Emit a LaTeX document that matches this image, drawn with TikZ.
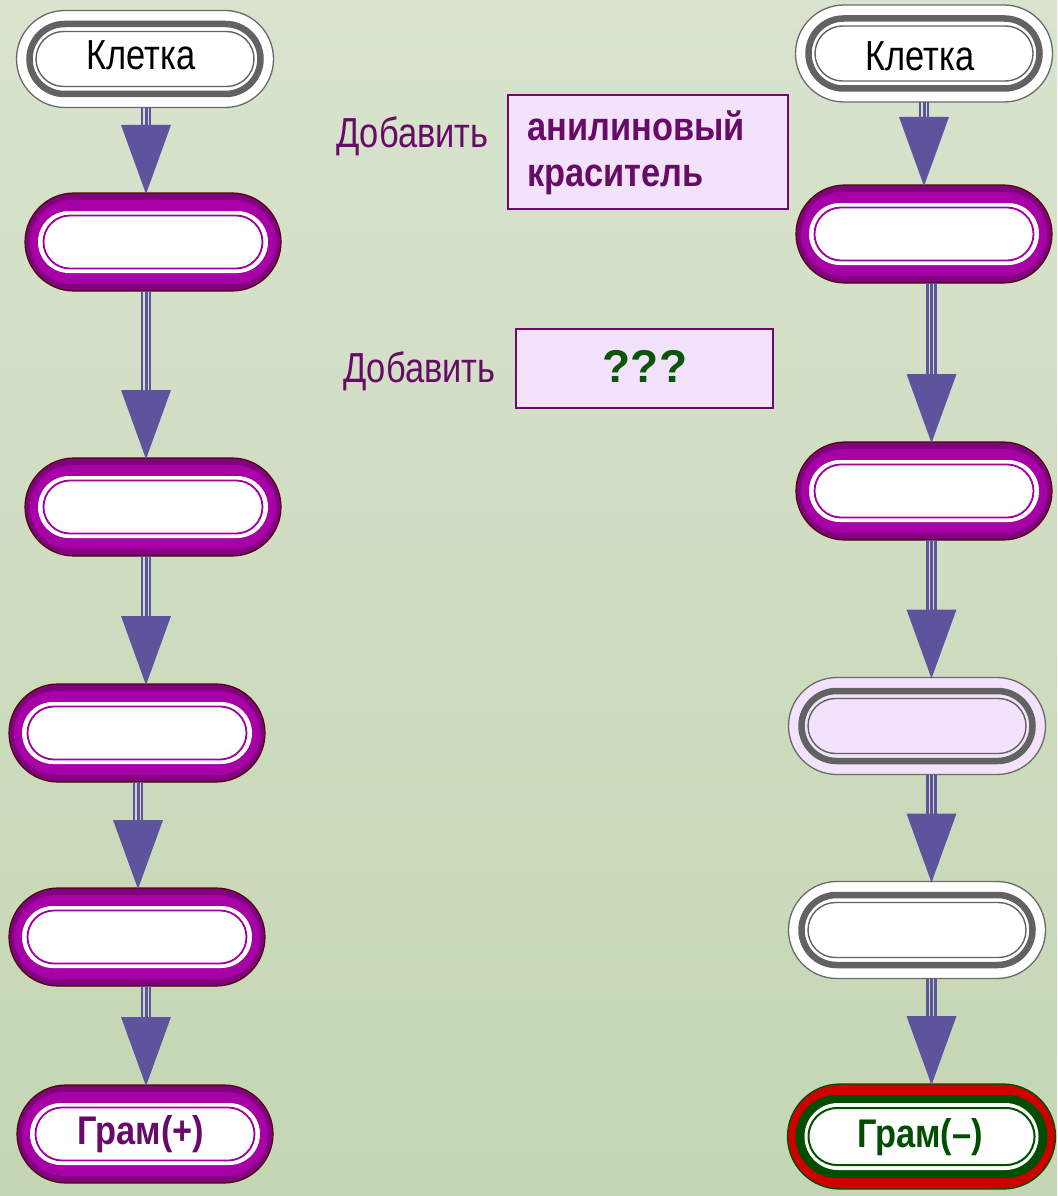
\documentclass[tikz,border=0pt]{standalone}
\usepackage{fontspec}
\usetikzlibrary{shapes.misc,calc}
\newfontfamily\nreg{Liberation Sans}[FakeStretch=0.82]
\newfontfamily\nbold{Liberation Sans}[FakeStretch=0.86]
\newfontfamily\qbold{Liberation Sans}
\definecolor{bgtop}{RGB}{217,227,206}
\definecolor{bgbot}{RGB}{196,214,179}
\definecolor{pdark}{RGB}{128,0,128}
\definecolor{pmid}{RGB}{166,0,166}
\definecolor{pedge}{RGB}{75,12,0}
\definecolor{plin}{RGB}{160,0,160}
\definecolor{gedge}{RGB}{106,106,106}
\definecolor{gring}{RGB}{98,98,98}
\definecolor{pinkf}{RGB}{243,226,251}
\definecolor{arrowc}{RGB}{94,84,158}
\definecolor{txtp}{RGB}{104,10,104}
\definecolor{txtg}{RGB}{10,85,10}
\definecolor{gdark}{RGB}{0,78,0}
\definecolor{redf}{RGB}{204,0,0}
\definecolor{boxedge}{RGB}{110,10,110}
\tikzset{
  base/.style={rounded rectangle, inner sep=0pt, outer sep=0pt},
  pouter/.style={base, fill=pdark, draw=pedge, line width=1.2pt, minimum width=256pt, minimum height=98pt},
  pband/.style={base, fill=pmid, minimum width=246pt, minimum height=84pt},
  pring/.style={base, fill=white, minimum width=230pt, minimum height=62pt},
  pline/.style={base, fill=white, draw=plin, line width=1.8pt, minimum width=219pt, minimum height=53pt},
  gouter/.style={base, draw=gedge, line width=1.3pt, minimum width=257pt, minimum height=97pt},
  gring/.style={base, draw=gring, line width=6.5pt, minimum width=231pt, minimum height=70pt},
  gline/.style={base, draw=gring, line width=1.4pt, minimum width=218pt, minimum height=55pt},
  router/.style={base, fill=redf, draw=gdark, line width=1.3pt, minimum width=268pt, minimum height=105pt},
  rband/.style={base, fill=gdark, minimum width=252pt, minimum height=83pt},
  rring/.style={base, fill=white, minimum width=234pt, minimum height=67pt},
  rline/.style={base, fill=white, draw=gdark, line width=2pt, minimum width=226pt, minimum height=57pt},
  addbox/.style={draw=boxedge, line width=1.8pt, fill=pinkf, inner sep=0pt},
  lbl/.style={inner sep=0pt, anchor=base west},
}
\newcommand\purplepill[3]{%
  \node[pouter] (#1) at (#2) {};
  \node[pband] (#1-b) at (#1.center) {};
  \node[pring] (#1-r) at (#1.center) {};
  \node[pline] (#1-l) at (#1.center) {#3};
}
\newcommand\graypill[3]{%
  \node[gouter, fill=#3] (#1) at (#2) {};
  \node[gring] (#1-r) at (#1.center) {};
  \node[gline] (#1-l) at (#1.center) {};
}
\newcommand\flow[3]{%
  \foreach \dx/\lw in {-4/2.3,0/3,4/2.3}{%
    \draw[arrowc, line width=\lw pt]
      ($(#1.south -| #3)+(\dx pt,0)$) -- ($(#2.north -| #3)+(\dx pt,60pt)$);
  }
  \fill[arrowc] ($(#2.north -| #3)+(-25pt,68pt)$) -- ($(#2.north -| #3)+(25pt,68pt)$)
     -- ($(#2.north -| #3)+(0,-1pt)$) -- cycle;
}
\begin{document}
\begin{tikzpicture}[x=1pt,y=-1pt]
\shade[top color=bgtop, bottom color=bgbot] (0,0) rectangle (1057,1196);
\useasboundingbox (0,0) rectangle (1057,1196);
% column x coordinates for connectors
\coordinate (xa) at (146,0);
\coordinate (xb) at (138,0);
\coordinate (xc) at (924,0);
\coordinate (xd) at (931.5,0);
% left column
\graypill{L1}{145,59}{white}
\node[inner sep=0pt, anchor=base] (L1t) at (141,70) {\nreg\fontsize{42}{50}\selectfont Клетка};
\purplepill{L2}{153,242}{}
\purplepill{L3}{153,507}{}
\purplepill{L4}{137,733}{}
\purplepill{L5}{137,937}{}
\purplepill{L6}{145,1134}{}
\node[inner sep=0pt, anchor=base] (L6t) at (141,1144) {\nbold\bfseries\fontsize{40}{48}\selectfont\color{txtp}Грам(+)};
% right column
\graypill{R1}{924,53.5}{white}
\node[inner sep=0pt, anchor=base] (R1t) at (920,71) {\nreg\fontsize{42}{50}\selectfont Клетка};
\purplepill{R2}{924,234}{}
\purplepill{R3}{924,491}{}
\graypill{R4}{917,726}{pinkf}
\graypill{R5}{917,930}{white}
\node[router] (R6) at (921.5,1136.5) {};
\node[rband] (R6-b) at (R6.center) {};
\node[rring] (R6-r) at (R6.center) {};
\node[rline] (R6-l) at (R6.center) {};
\node[inner sep=0pt, anchor=base] (R6t) at (920,1147) {\nbold\bfseries\fontsize{40}{48}\selectfont\color{gdark}Грам(–)};
% middle boxes
\node[addbox, minimum width=280pt, minimum height=114pt] (B1) at (648,152) {};
\node[lbl] (B1a) at (527,140) {\nbold\bfseries\fontsize{40}{46}\selectfont\color{txtp}анилиновый};
\node[lbl] (B1b) at (527,186) {\nbold\bfseries\fontsize{40}{46}\selectfont\color{txtp}краситель};
\node[lbl] (D1) at (336,147) {\nreg\fontsize{42}{50}\selectfont\color{txtp}Добавить};
\node[addbox, minimum width=257pt, minimum height=79pt] (B2) at (644.5,368.5) {};
\node[inner sep=0pt, anchor=base] (B2t) at (645,382) {\qbold\bfseries\fontsize{46}{50}\selectfont\color{txtg}???};
\node[lbl] (D2) at (343,382) {\nreg\fontsize{42}{50}\selectfont\color{txtp}Добавить};
% connectors
\flow{L1}{L2}{xa}
\flow{L2}{L3}{xa}
\flow{L3}{L4}{xa}
\flow{L4}{L5}{xb}
\flow{L5}{L6}{xa}
\flow{R1}{R2}{xc}
\flow{R2}{R3}{xd}
\flow{R3}{R4}{xd}
\flow{R4}{R5}{xd}
\flow{R5}{R6}{xd}
\end{tikzpicture}
\end{document}
